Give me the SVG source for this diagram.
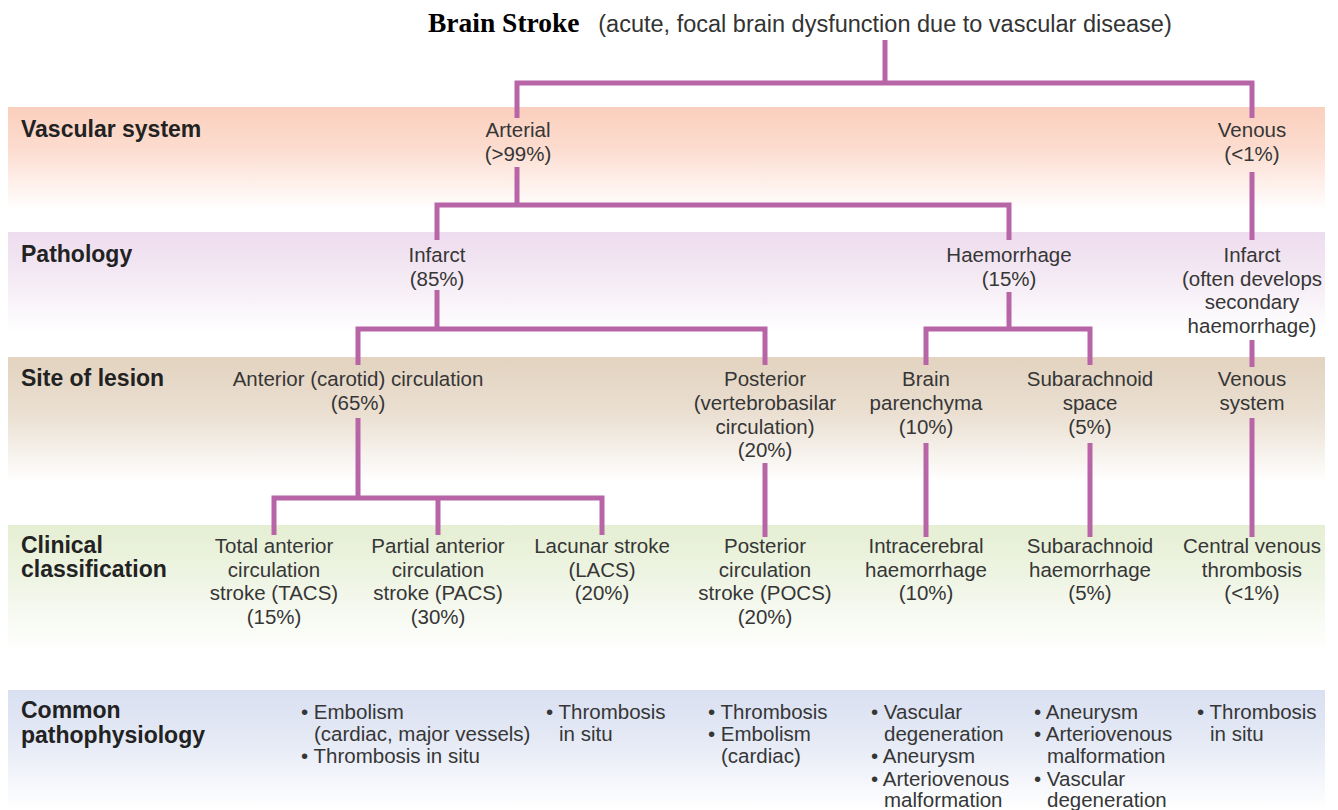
<svg xmlns="http://www.w3.org/2000/svg" width="1338" height="810" viewBox="0 0 1338 810">
<defs>
<linearGradient id="gV" x1="0" y1="0" x2="0" y2="1"><stop offset="0" stop-color="#fbcfbd"/><stop offset="0.4" stop-color="#fcdccf"/><stop offset="1" stop-color="#ffffff"/></linearGradient>
<linearGradient id="gP" x1="0" y1="0" x2="0" y2="1"><stop offset="0" stop-color="#eedcef"/><stop offset="0.4" stop-color="#f3e8f3"/><stop offset="1" stop-color="#ffffff"/></linearGradient>
<linearGradient id="gS" x1="0" y1="0" x2="0" y2="1"><stop offset="0" stop-color="#e3d3c0"/><stop offset="0.45" stop-color="#eadfd1"/><stop offset="1" stop-color="#ffffff"/></linearGradient>
<linearGradient id="gC" x1="0" y1="0" x2="0" y2="1"><stop offset="0" stop-color="#e5efd3"/><stop offset="0.4" stop-color="#eef4e3"/><stop offset="1" stop-color="#ffffff"/></linearGradient>
<linearGradient id="gB" x1="0" y1="0" x2="0" y2="1"><stop offset="0" stop-color="#d9e0f1"/><stop offset="0.4" stop-color="#e4e9f5"/><stop offset="1" stop-color="#ffffff"/></linearGradient>
</defs>
<style>
.t{font-family:"Liberation Sans",Arial,sans-serif;font-size:20.5px;fill:#363636;text-anchor:middle}
.b{font-family:"Liberation Sans",Arial,sans-serif;font-size:20.5px;fill:#363636}
.lab{font-family:"Liberation Sans",Arial,sans-serif;font-size:23px;font-weight:bold;fill:#222}
.title{font-family:"Liberation Serif","Times New Roman",serif;font-size:27.5px;font-weight:bold;fill:#000}
.sub{font-family:"Liberation Sans",Arial,sans-serif;font-size:23.5px;fill:#333;text-anchor:middle}
.c{fill:none;stroke:#b865a8;stroke-width:5;stroke-linejoin:miter;stroke-linecap:butt}
</style>
<rect width="1338" height="810" fill="#ffffff"/>
<g id="bands">
<rect x="8" y="107" width="1317" height="103" fill="url(#gV)"/>
<rect x="8" y="232" width="1317" height="100" fill="url(#gP)"/>
<rect x="8" y="357" width="1317" height="125" fill="url(#gS)"/>
<rect x="8" y="525" width="1317" height="128" fill="url(#gC)"/>
<rect x="8" y="690" width="1317" height="120" fill="url(#gB)"/>
</g>
<g id="row-labels">
<text class="lab" x="21" y="137">Vascular system</text>
<text class="lab" x="21" y="262">Pathology</text>
<text class="lab" x="21" y="386">Site of lesion</text>
<text class="lab" x="21" y="553">Clinical</text>
<text class="lab" x="21" y="577">classification</text>
<text class="lab" x="21" y="718">Common</text>
<text class="lab" x="21" y="742.5">pathophysiology</text>
</g>
<g id="connectors">
<path class="c" d="M885,40 V83"/>
<path class="c" d="M517,118 V83 H1252 V118"/>
<path class="c" d="M517,167 V205"/>
<path class="c" d="M437,240 V205 H1009 V240"/>
<path class="c" d="M1252,172 V240"/>
<path class="c" d="M437,290 V329"/>
<path class="c" d="M358,365 V329 H765 V365"/>
<path class="c" d="M1009,292 V329"/>
<path class="c" d="M926,365 V329 H1090 V365"/>
<path class="c" d="M1252,340 V367"/>
<path class="c" d="M358,418 V498"/>
<path class="c" d="M274,535 V498 H602 V535"/>
<path class="c" d="M438,498 V535"/>
<path class="c" d="M765,463 V537"/>
<path class="c" d="M926,443 V537"/>
<path class="c" d="M1090,443 V537"/>
<path class="c" d="M1252,418 V537"/>
</g>
<g id="title">
<text class="title" x="428" y="32">Brain Stroke</text>
<text class="sub" x="885" y="32">(acute, focal brain dysfunction due to vascular disease)</text>
</g>
<g id="arterial"><text class="t" x="518" y="137">Arterial</text><text class="t" x="518" y="161">(&gt;99%)</text></g>
<g id="venous"><text class="t" x="1252" y="137">Venous</text><text class="t" x="1252" y="161">(&lt;1%)</text></g>
<g id="infarct"><text class="t" x="437" y="262">Infarct</text><text class="t" x="437" y="286">(85%)</text></g>
<g id="haemorrhage"><text class="t" x="1009" y="262">Haemorrhage</text><text class="t" x="1009" y="286">(15%)</text></g>
<g id="venous-infarct"><text class="t" x="1252" y="262">Infarct</text><text class="t" x="1252" y="285.5">(often develops</text><text class="t" x="1252" y="309">secondary</text><text class="t" x="1252" y="332.5">haemorrhage)</text></g>
<g id="anterior"><text class="t" x="358" y="386">Anterior (carotid) circulation</text><text class="t" x="358" y="410">(65%)</text></g>
<g id="posterior"><text class="t" x="765" y="386">Posterior</text><text class="t" x="765" y="410">(vertebrobasilar</text><text class="t" x="765" y="433.5">circulation)</text><text class="t" x="765" y="457">(20%)</text></g>
<g id="brain-parenchyma"><text class="t" x="926" y="386">Brain</text><text class="t" x="926" y="410">parenchyma</text><text class="t" x="926" y="433.5">(10%)</text></g>
<g id="subarachnoid-space"><text class="t" x="1090" y="386">Subarachnoid</text><text class="t" x="1090" y="410">space</text><text class="t" x="1090" y="433.5">(5%)</text></g>
<g id="venous-system"><text class="t" x="1252" y="386">Venous</text><text class="t" x="1252" y="410">system</text></g>
<g id="tacs"><text class="t" x="274" y="553">Total anterior</text><text class="t" x="274" y="577">circulation</text><text class="t" x="274" y="600">stroke (TACS)</text><text class="t" x="274" y="623.5">(15%)</text></g>
<g id="pacs"><text class="t" x="438" y="553">Partial anterior</text><text class="t" x="438" y="577">circulation</text><text class="t" x="438" y="600">stroke (PACS)</text><text class="t" x="438" y="623.5">(30%)</text></g>
<g id="lacs"><text class="t" x="602" y="553">Lacunar stroke</text><text class="t" x="602" y="577">(LACS)</text><text class="t" x="602" y="600">(20%)</text></g>
<g id="pocs"><text class="t" x="765" y="553">Posterior</text><text class="t" x="765" y="577">circulation</text><text class="t" x="765" y="600">stroke (POCS)</text><text class="t" x="765" y="623.5">(20%)</text></g>
<g id="ich"><text class="t" x="926" y="553">Intracerebral</text><text class="t" x="926" y="577">haemorrhage</text><text class="t" x="926" y="600">(10%)</text></g>
<g id="sah"><text class="t" x="1090" y="553">Subarachnoid</text><text class="t" x="1090" y="577">haemorrhage</text><text class="t" x="1090" y="600">(5%)</text></g>
<g id="cvt"><text class="t" x="1252" y="553">Central venous</text><text class="t" x="1252" y="577">thrombosis</text><text class="t" x="1252" y="600">(&lt;1%)</text></g>
<g id="patho-anterior"><text class="b" x="301" y="719">• Embolism</text><text class="b" x="314" y="741">(cardiac, major vessels)</text><text class="b" x="301" y="763">• Thrombosis in situ</text></g>
<g id="patho-lacunar"><text class="b" x="546" y="719">• Thrombosis</text><text class="b" x="559" y="741">in situ</text></g>
<g id="patho-posterior"><text class="b" x="708" y="719">• Thrombosis</text><text class="b" x="708" y="741">• Embolism</text><text class="b" x="721" y="763">(cardiac)</text></g>
<g id="patho-ich"><text class="b" x="871" y="719">• Vascular</text><text class="b" x="884" y="741">degeneration</text><text class="b" x="871" y="763">• Aneurysm</text><text class="b" x="871" y="786">• Arteriovenous</text><text class="b" x="884" y="807">malformation</text></g>
<g id="patho-sah"><text class="b" x="1034" y="719">• Aneurysm</text><text class="b" x="1034" y="741">• Arteriovenous</text><text class="b" x="1047" y="763">malformation</text><text class="b" x="1034" y="786">• Vascular</text><text class="b" x="1047" y="807">degeneration</text></g>
<g id="patho-cvt"><text class="b" x="1197" y="719">• Thrombosis</text><text class="b" x="1210" y="741">in situ</text></g>
</svg>
